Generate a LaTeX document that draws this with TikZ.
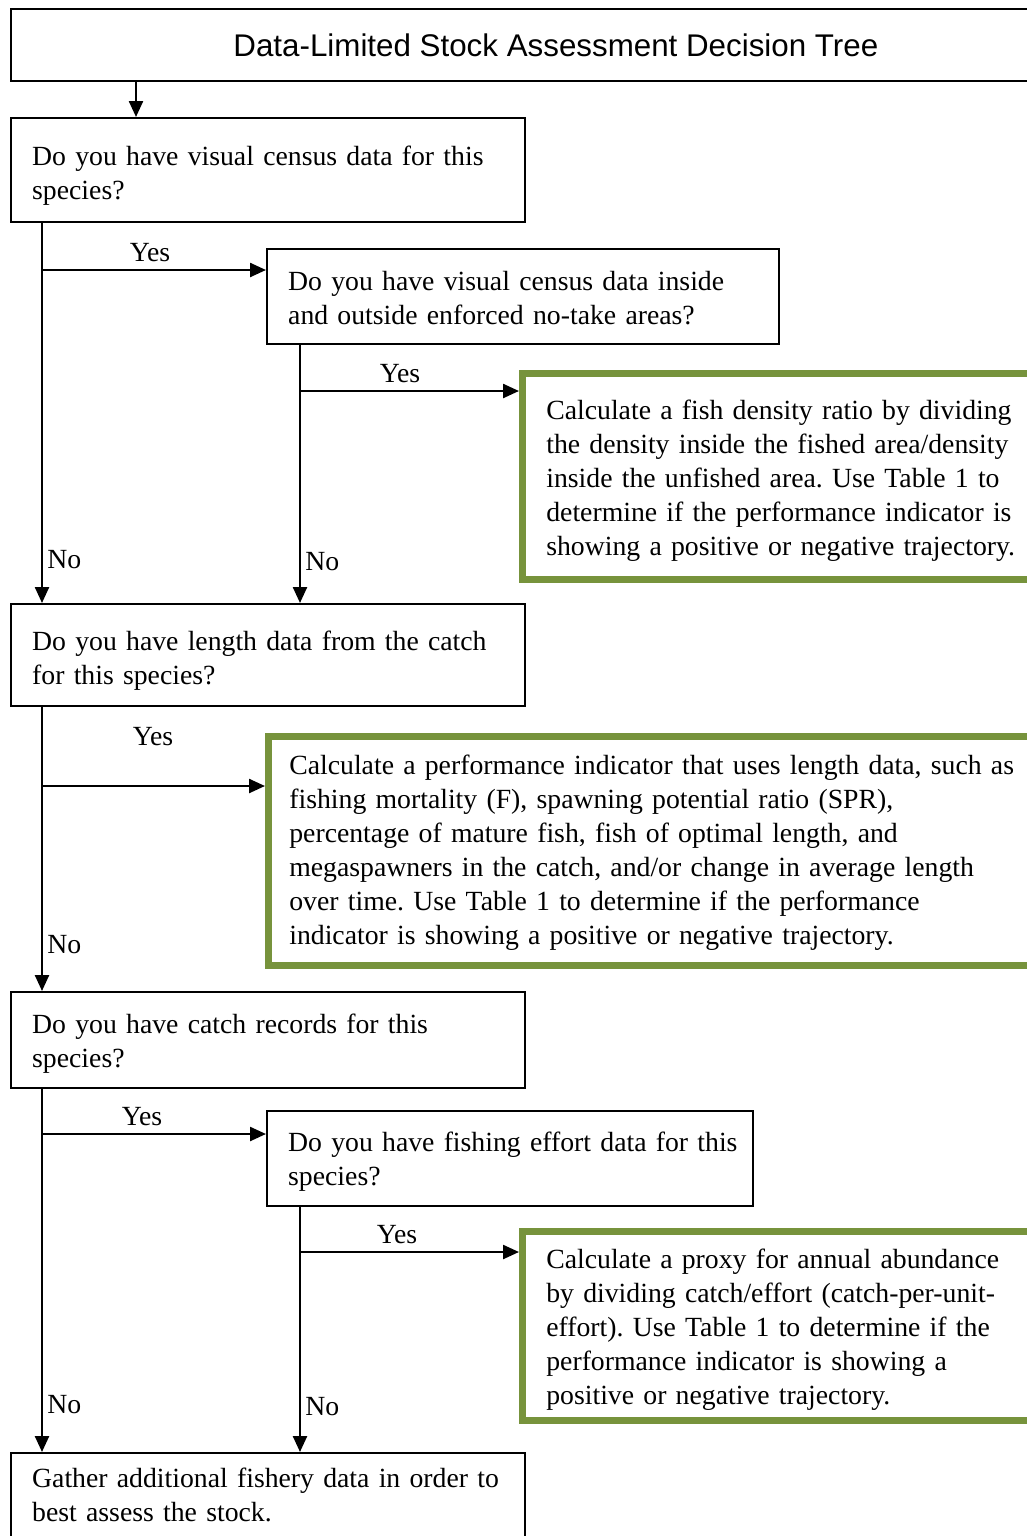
\documentclass[tikz,border=0pt]{standalone}
\usepackage{fontspec}
\setmainfont[WordSpace=0.85]{Liberation Serif}
\newfontfamily\titlefont{Liberation Sans}
\usetikzlibrary{arrows.meta}
\definecolor{boxgreen}{RGB}{119,147,60}
\newcommand\blines[2][9pt]{\raisebox{0pt}[\dimexpr\height+#1\relax][\depth]{\begin{tabular}{@{}l@{}}#2\end{tabular}}}
\frenchspacing
\begin{document}
\begin{tikzpicture}[x=0.75pt,y=-0.75pt,
  every node/.style={font=\fontsize{20.8}{25.5}\selectfont},
  qbox/.style={draw, line width=1.3pt, anchor=north west, align=left, inner ysep=0pt, inner xsep=16pt},
  gbox/.style={draw=boxgreen, line width=5pt, anchor=north west, align=left, inner ysep=0pt, inner xsep=18pt},
  arr/.style={line width=1.8pt, -{Triangle[length=12pt,width=10.5pt]}},
  lbl/.style={inner sep=0pt}
]
\useasboundingbox (0,0) rectangle (1026,1536);
% title
\node[draw, line width=1.3pt, anchor=north west, minimum width=817.5pt, minimum height=54pt, inner sep=0pt, font=\titlefont\fontsize{23.5}{28}\selectfont] (title) at (10,8) {Data-Limited Stock Assessment Decision Tree};
% questions
\node[qbox, minimum width=385.5pt, minimum height=78pt, text width=353.5pt] (q1) at (10,117)
  {\blines{Do you have visual census data for this\\species?}};
\node[qbox, minimum width=384pt, minimum height=71.25pt, text width=352pt] (q2) at (266,248)
  {\blines[6pt]{Do you have visual census data inside\\and outside enforced no-take areas?}};
\node[gbox, minimum width=433.5pt, minimum height=154.5pt, text width=397.5pt] (g1) at (519,370)
  {\blines[6pt]{Calculate a fish density ratio by dividing\\the density inside the fished area/density\\inside the unfished area. Use Table 1 to\\determine if the performance indicator is\\showing a positive or negative trajectory.}};
\node[qbox, minimum width=385.5pt, minimum height=76.5pt, text width=353.5pt] (q3) at (10,603)
  {\blines{Do you have length data from the catch\\for this species?}};
\node[gbox, minimum width=624pt, minimum height=171.75pt, text width=592.5pt, inner xsep=15.75pt] (g2) at (265,733)
  {\blines[3pt]{Calculate a performance indicator that uses length data, such as\\fishing mortality (F), spawning potential ratio (SPR),\\percentage of mature fish, fish of optimal length, and\\megaspawners in the catch, and/or change in average length\\over time. Use Table 1 to determine if the performance\\indicator is showing a positive or negative trajectory.}};
\node[qbox, minimum width=385.5pt, minimum height=72pt, text width=353.5pt] (q4) at (10,991)
  {\blines[5pt]{Do you have catch records for this\\species?}};
\node[qbox, minimum width=364.5pt, minimum height=71.25pt, text width=332.5pt] (q5) at (266,1110)
  {\blines[5pt]{Do you have fishing effort data for this\\species?}};
\node[gbox, minimum width=433.5pt, minimum height=141.75pt, text width=397.5pt] (g3) at (519,1228)
  {\blines[6pt]{Calculate a proxy for annual abundance\\by dividing catch/effort (catch-per-unit-\\effort). Use Table 1 to determine if the\\performance indicator is showing a\\positive or negative trajectory.}};
\node[qbox, minimum width=385.5pt, minimum height=64.5pt, text width=353.5pt] (q6) at (10,1452)
  {\blines[3pt]{Gather additional fishery data in order to\\best assess the stock.}};
% columns and branch points
\coordinate (c0) at (136,0);
\coordinate (c1) at (42,0);
\coordinate (c2) at (300,0);
\coordinate (b1) at (42,270);
\coordinate (b2) at (300,391);
\coordinate (b3) at (42,786);
\coordinate (b4) at (42,1134);
\coordinate (b5) at (300,1252);
% connectors
\draw[arr] (title.south -| c0) -- (q1.north -| c0);
\draw[arr] (q1.south -| c1) -- (q3.north -| c1);
\draw[arr] (b1) -- (b1 -| q2.west);
\draw[arr] (q2.south -| c2) -- (q3.north -| c2);
\draw[arr] (b2) -- (b2 -| g1.west);
\draw[arr] (q3.south -| c1) -- (q4.north -| c1);
\draw[arr] (b3) -- (b3 -| g2.west);
\draw[arr] (q4.south -| c1) -- (q6.north -| c1);
\draw[arr] (b4) -- (b4 -| q5.west);
\draw[arr] (q5.south -| c2) -- (q6.north -| c2);
\draw[arr] (b5) -- (b5 -| g3.west);
% labels
\node[lbl] (y1) at (150,253) {Yes};
\node[lbl] (y2) at (400,374) {Yes};
\node[lbl] (y3) at (153,737) {Yes};
\node[lbl] (y4) at (142,1117) {Yes};
\node[lbl] (y5) at (397,1235) {Yes};
\node[lbl, anchor=west] (n1) at (47,560) {No};
\node[lbl, anchor=west] (n2) at (305,562) {No};
\node[lbl, anchor=west] (n3) at (47,945) {No};
\node[lbl, anchor=west] (n4) at (47,1405) {No};
\node[lbl, anchor=west] (n5) at (305,1407) {No};
\end{tikzpicture}
\end{document}
